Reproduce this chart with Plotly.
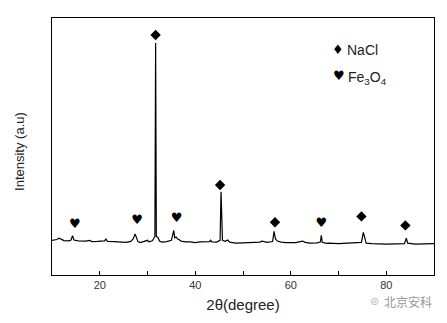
import plotly.graph_objects as go

# XRD pattern (2theta in degrees, intensity in arbitrary units)
two_theta = [10.0, 11.0, 11.5, 12.0, 12.5, 13.5, 14.0, 14.3, 14.6, 15.5, 17.0, 18.0, 18.3, 19.5,
             21.0, 21.3, 21.6, 23.0, 24.0, 25.5, 26.5, 27.0, 27.4, 27.7, 28.0, 28.5, 29.5, 30.0,
             30.3, 31.0, 31.3, 31.55, 31.7, 31.85, 32.2, 32.5, 33.0, 34.0, 35.0, 35.3, 35.5, 35.7,
             36.0, 36.3, 36.6, 37.0, 38.0, 39.0, 40.0, 41.0, 43.0, 43.2, 43.5, 44.5, 45.2, 45.4,
             45.55, 45.7, 46.3, 46.8, 47.2, 48.5, 50.0, 52.0, 53.5, 54.0, 55.0, 56.2, 56.5, 56.8,
             57.2, 58.0, 59.0, 61.0, 62.5, 63.0, 64.0, 65.5, 66.2, 66.4, 66.6, 67.5, 68.0, 70.0,
             72.0, 74.8, 75.2, 75.5, 75.8, 77.0, 80.0, 83.8, 84.2, 84.5, 86.0, 88.0, 90.0]
intensity = [13.5, 13.8, 14.3, 14.0, 13.4, 13.3, 13.6, 15.3, 13.6, 13.3, 13.2, 13.5, 13.0, 13.1,
             13.3, 14.0, 13.1, 13.0, 12.8, 12.7, 13.1, 14.0, 16.0, 14.2, 13.0, 12.6, 13.0, 13.5,
             12.9, 13.3, 14.2, 15.0, 90.3, 15.0, 14.6, 13.2, 12.8, 13.0, 13.5, 15.5, 17.4, 14.5,
             14.8, 14.0, 13.8, 13.2, 12.9, 12.9, 12.6, 12.9, 13.0, 13.5, 12.9, 12.8, 13.5, 32.4,
             22.0, 13.5, 13.1, 13.6, 12.8, 12.4, 12.5, 12.6, 12.8, 13.2, 12.7, 13.0, 17.0, 14.0,
             13.2, 12.8, 12.6, 12.6, 13.2, 12.7, 12.4, 12.5, 12.8, 15.4, 12.7, 12.3, 12.4, 12.2,
             12.3, 12.7, 16.6, 14.0, 12.4, 12.2, 12.0, 12.2, 14.3, 12.4, 12.0, 12.1, 12.2]

# Phase markers
nacl_x = [31.7, 45.2, 56.7, 74.8, 84.0]
nacl_y = [93.4, 35.0, 20.5, 22.8, 19.3]
fe3o4_x = [14.8, 27.8, 36.1, 66.4]
fe3o4_y = [19.7, 21.0, 22.0, 20.0]

fig = go.Figure()
fig.add_trace(go.Scatter(x=two_theta, y=intensity, mode="lines",
                         line=dict(color="black", width=1.2), showlegend=False))
fig.add_trace(go.Scatter(x=nacl_x, y=nacl_y, mode="markers",
                         marker=dict(symbol="diamond", size=8, color="black"), showlegend=False))
fig.add_trace(go.Scatter(x=fe3o4_x, y=fe3o4_y, mode="text", text=["♥"] * len(fe3o4_x),
                         textfont=dict(family="DejaVu Sans", size=13, color="black"),
                         textposition="middle center", showlegend=False))

fig.update_layout(
    width=447, height=323,
    margin=dict(l=52, r=13, t=18, b=46),
    paper_bgcolor="white", plot_bgcolor="white",
    font=dict(family="Liberation Sans, Arial", color="#222"),
    xaxis=dict(range=[10, 90], tickvals=[20, 30, 40, 50, 60, 70, 80],
               ticktext=["20", "", "40", "", "60", "", "80"],
               ticks="inside", ticklen=4, tickwidth=1, tickcolor="black",
               showline=True, linecolor="black", linewidth=1, mirror=True,
               showgrid=False, zeroline=False, tickfont=dict(size=11, color="#333"),
               title=dict(text="2θ(degree)", font=dict(size=15, color="#222"), standoff=9)),
    yaxis=dict(range=[0, 100], showticklabels=False, ticks="",
               showline=True, linecolor="black", linewidth=1, mirror=True,
               showgrid=False, zeroline=False),
)

# helpers to place annotations by pixel position (paper coords)
def px(xp):
    return (xp - 52) / (434 - 52)

def py(yp):
    return (277 - yp) / (277 - 18)

fig.add_annotation(x=px(20), y=py(153), xref="paper", yref="paper", text="Intensity (a.u)",
                   textangle=-90, xanchor="center", yanchor="middle", showarrow=False,
                   font=dict(family="Liberation Sans, Arial", size=13, color="#222"))
fig.add_annotation(x=px(338), y=py(50), xref="paper", yref="paper", text="♦",
                   xanchor="center", yanchor="middle",
                   showarrow=False, font=dict(family="DejaVu Sans", size=13, color="black"))
fig.add_annotation(x=px(345), y=py(50), xref="paper", yref="paper", text="NaCl",
                   xanchor="left", yanchor="middle",
                   showarrow=False, font=dict(family="Liberation Sans, Arial", size=14, color="#222"))
fig.add_annotation(x=px(339), y=py(76), xref="paper", yref="paper", text="♥",
                   xanchor="center", yanchor="middle",
                   showarrow=False, font=dict(family="DejaVu Sans", size=13, color="black"))
fig.add_annotation(x=px(346), y=py(78), xref="paper", yref="paper",
                   text="Fe<sub>3</sub>O<sub>4</sub>", xanchor="left", yanchor="middle",
                   showarrow=False, font=dict(family="Liberation Sans, Arial", size=14, color="#222"))
fig.add_annotation(x=px(434), y=py(304), xref="paper", yref="paper", text="北京安科",
                   xanchor="right", yanchor="middle", showarrow=False,
                   font=dict(family="Noto Sans CJK SC", size=12, color="#999"))
fig.add_annotation(x=px(374), y=py(304), xref="paper", yref="paper", text="⊚",
                   xanchor="center", yanchor="middle", showarrow=False,
                   font=dict(family="DejaVu Sans", size=11, color="#bbb"))

fig.write_html("out.html")
